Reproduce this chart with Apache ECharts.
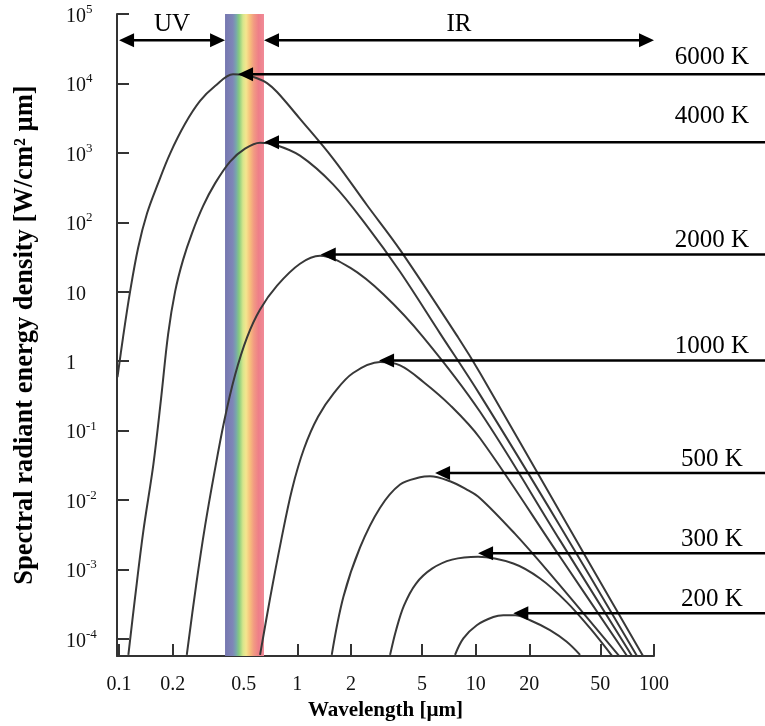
<!DOCTYPE html>
<html><head><meta charset="utf-8">
<script src="https://cdn.jsdelivr.net/npm/echarts@6/dist/echarts.min.js"></script>
<style>html,body{margin:0;padding:0;background:#fff}#main{width:765px;height:726px}</style>
</head><body><div id="main"></div>
<script>
// ---- data (wavelength in µm, spectral radiant energy density in W/(cm² µm)) ----
const tempLabels = ['6000 K','4000 K','2000 K','1000 K','500 K','300 K','200 K'];

const wl6000  = [0.098,0.1053,0.1153,0.1279,0.1436,0.1655,0.1933,0.2346,0.2847,0.3455,0.4359,0.5089,0.5943,0.676,0.7694,1.035,1.586,2.459,3.767,7.96,10.58,29.7,86.8];
const val6000 = [0.59,2.21,10.05,42.8,135,364,977,2620,5590,9160,13600,13200,11900,10110,7520,3090,828,176,40.1,2.21,0.676,0.00673,5.7e-5];

const wl4000  = [0.1128,0.123,0.1369,0.1558,0.172,0.1884,0.2062,0.2286,0.2567,0.2959,0.3455,0.4195,0.5089,0.6178,0.7498,1.035,1.586,2.459,3.767,6.31,10.58,29.7,80.3];
const val4000 = [5.9e-5,3.97e-4,3.6e-3,0.0327,0.287,2.44,10.05,28.8,70.1,171,364,750,1151,1403,1313,914,352,88.3,19.4,2.52,0.3275,4.25e-3,5.7e-5];

const wl2000  = [0.2398,0.2704,0.3037,0.3411,0.3882,0.4473,0.5223,0.6178,0.7694,1.035,1.341,1.975,3.036,5.09,10.58,29.7,75.3];
const val2000 = [5.9e-5,5.89e-4,4.25e-3,0.0235,0.1347,0.633,2.21,5.56,12.25,25.3,32.9,22.2,9.2,2.21,0.187,2.63e-3,5.7e-5];

const wl1000  = [0.6178,0.7029,0.8102,0.9339,1.0904,1.306,1.606,2.053,2.909,3.767,5.09,7.18,10.58,29.7,70.6];
const val1000 = [5.9e-5,3.84e-4,2.59e-3,0.01436,0.0553,0.1588,0.35,0.676,0.971,0.871,0.503,0.2334,0.0777,1.53e-3,5.7e-5];

const wl500   = [1.559,1.811,2.247,2.909,3.767,4.877,5.548,7.18,8.83,10.58,16.63,26.1,63.7];
const val500  = [5.9e-5,4.01e-4,2.08e-3,7.76e-3,0.01676,0.02131,0.02203,0.01868,0.01436,0.01067,3.26e-3,8.74e-4,5.7e-5];

const wl300   = [3.311,3.577,3.966,4.63,5.69,7.37,10.31,16.26,22.96,32.4,43.8,58.2];
const val300  = [5.9e-5,1.34e-4,3.05e-4,6.29e-4,1.03e-3,1.39e-3,1.53e-3,1.22e-3,7.42e-4,3.4e-4,1.43e-4,5.7e-5];

const wl200   = [7.66,8.53,10.14,12.56,14.3,16.63,20.2,26.1,32.4,38.5];
const val200  = [5.9e-5,1.02e-4,1.58e-4,2.07e-4,2.19e-4,2.19e-4,1.86e-4,1.34e-4,9.1e-5,5.9e-5];

// arrow tips pointing at each curve
const peakWl  = [0.465,0.650,1.353,2.872,5.92,10.31,16.26];
const peakVal = [13600,1426,34.3,1.027,0.0245,1.71e-3,2.34e-4];

// visible band and UV / IR arrows
const visibleBand = [0.393, 0.65];
const uvRange = [0.1, 0.393];
const irRange = [0.65, 100];
const rangeArrowLevel = 42000;

// axis ticks
const xTicks = [0.1,0.2,0.5,1,2,5,10,20,50,100];
const xTickLabels = ['0.1','0.2','0.5','1','2','5','10','20','50','100'];
const yTickExps = [-4,-3,-2,-1,0,1,2,3,4,5];
const xRange = [0.0974, 100];
const yRange = [5.69e-5, 1e5];

// ---- chart ----
const L = Math.log10;
const FONT = '"Liberation Serif", "Times New Roman", serif';
const curves = [[wl6000,val6000],[wl4000,val4000],[wl2000,val2000],[wl1000,val1000],[wl500,val500],[wl300,val300],[wl200,val200]];
const labelDy = [-17,-26,-14,-14,-14,-14,-14];
const xTickPos = xTicks.map(L);
const chart = echarts.init(document.getElementById('main'));

const bandGradient = new echarts.graphic.LinearGradient(0,0,1,0,[
  {offset:0, color:'#7677b0'},{offset:0.2, color:'#7f86b8'},{offset:0.28, color:'#78a6ac'},
  {offset:0.36, color:'#86cc7f'},{offset:0.46, color:'#d6e68c'},{offset:0.54, color:'#f4e68e'},
  {offset:0.64, color:'#f6bf7c'},{offset:0.74, color:'#f29a82'},{offset:0.86, color:'#ee7f88'},
  {offset:1, color:'#f08a97'}
]);

const series = curves.map(([w,v], k) => ({
  type:'line', name: tempLabels[k],
  data: w.map((x,i)=>[L(x), L(v[i])]),
  showSymbol:false, smooth:0.35, clip:true, silent:true, z:3,
  lineStyle:{color:'#383838', width:2}
}));
series[0].markArea = {
  silent:true,
  itemStyle:{color:bandGradient, opacity:1},
  data:[[{xAxis:L(visibleBand[0]), yAxis:L(yRange[0])},{xAxis:L(visibleBand[1]), yAxis:L(yRange[1])}]]
};

chart.setOption({
  animation:false,
  backgroundColor:'#fff',
  grid:{left:117, right:111, top:14, bottom:65, containLabel:false},
  xAxis:{
    type:'value', min:L(xRange[0]), max:L(xRange[1]),
    name:'Wavelength [µm]', nameLocation:'middle', nameGap:44,
    nameTextStyle:{fontFamily:FONT, fontSize:21, fontWeight:'bold', color:'#000'},
    axisLine:{onZero:false, lineStyle:{color:'#333', width:2}},
    axisTick:{inside:true, length:12, customValues:xTickPos, lineStyle:{color:'#333', width:2}},
    axisLabel:{customValues:xTickPos, margin:19, fontFamily:FONT, fontSize:20, color:'#111',
      formatter:v=>{ const i = xTickPos.findIndex(p=>Math.abs(p-v)<1e-6); return i>=0 ? xTickLabels[i] : ''; }},
    splitLine:{show:false}
  },
  yAxis:{
    type:'value', min:L(yRange[0]), max:L(yRange[1]),
    name:'Spectral radiant energy density [W/cm² µm]', nameLocation:'middle', nameGap:78, nameRotate:90,
    nameTextStyle:{fontFamily:FONT, fontSize:26.5, fontWeight:'bold', color:'#000'},
    axisLine:{onZero:false, lineStyle:{color:'#333', width:2}},
    axisTick:{inside:true, length:12, customValues:yTickExps, lineStyle:{color:'#333', width:2}},
    axisLabel:{customValues:yTickExps, margin:51, align:'left',
      formatter:v=>{ const e=Math.round(v); if(e===0) return '{n|1}'; if(e===1) return '{n|10}'; return '{n|10}{s|'+e+'}'; },
      rich:{
        n:{fontFamily:FONT, fontSize:20, color:'#111', lineHeight:22, padding:[5,0,0,0]},
        s:{fontFamily:FONT, fontSize:13, color:'#111', lineHeight:13, verticalAlign:'top'}
      }},
    splitLine:{show:false}
  },
  series
});

// ---- annotation arrows, anchored to data through the axes ----
const W = chart.getWidth();
const toPx = (x,y) => chart.convertToPixel({xAxisIndex:0, yAxisIndex:0}, [L(x), L(y)]);
const HEAD = 15, HALF = 7, LW = 2.5;
const g = [];
function head(x,y,dir){ // dir -1 => pointing left, +1 => pointing right
  return {type:'polygon', z:100, shape:{points:[[x,y],[x-dir*HEAD,y-HALF],[x-dir*HEAD,y+HALF]]}, style:{fill:'#000'}};
}
function hline(x1,x2,y){ return {type:'line', z:99, shape:{x1,y1:y,x2,y2:y}, style:{stroke:'#000', lineWidth:LW}}; }
function label(text,x,y){ return {type:'text', z:101, x, y, style:{text, font:'25px '+FONT, fill:'#000', align:'center', verticalAlign:'middle'}}; }

peakWl.forEach((w,i)=>{
  const p = toPx(w, peakVal[i]);
  g.push(hline(p[0]+HEAD-2, W, p[1]));
  g.push(head(p[0], p[1], -1));
  g.push(label(tempLabels[i], W-53, p[1]+labelDy[i]));
});
function doubleArrow(r, text){
  const a = toPx(r[0], rangeArrowLevel), b = toPx(r[1], rangeArrowLevel);
  g.push(hline(a[0]+HEAD-2, b[0]-HEAD+2, a[1]));
  g.push(head(a[0], a[1], -1));
  g.push(head(b[0], b[1], 1));
  g.push(label(text, (a[0]+b[0])/2, a[1]-16));
}
doubleArrow(uvRange, 'UV');
doubleArrow(irRange, 'IR');
chart.setOption({graphic:{elements:g}});
</script></body></html>
